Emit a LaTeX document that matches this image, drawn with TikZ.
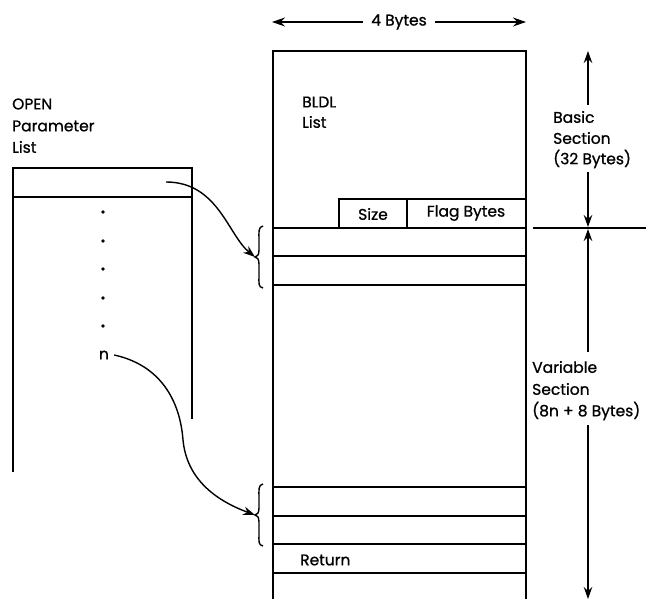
\documentclass[tikz,border=0pt]{standalone}
\usepackage{fontspec}
\setmainfont{Poppins}
\newfontfamily\lblfont{Poppins}[FakeBold=0.9]
\usetikzlibrary{arrows.meta}
\begin{document}
\begin{tikzpicture}[x=1pt,y=-1pt,
  boxline/.style={line width=1.8pt},
  dimline/.style={line width=1.2pt},
  curve/.style={line width=1.4pt},
  lbl/.style={font=\lblfont\fontsize{15.5}{17}\selectfont, inner sep=0pt},
  tipped/.style={-{Stealth[length=12pt,width=8.5pt]}},
  both/.style={{Stealth[length=13pt,width=9pt]}-{Stealth[length=13pt,width=9pt]}}]
\useasboundingbox (0,0) rectangle (646,599);
% BLDL list box
\draw[boxline] (273,599) -- (273,51) -- (526,51) -- (526,599);
\foreach \yy in {228,256,285,487,516,544,573}
  \draw[boxline] (273,\yy) -- (526,\yy);
\draw[boxline] (339,228) -- (339,199) -- (526,199);
\draw[boxline] (407,199) -- (407,228);
\node[lbl] (size) at (373,214) {Size};
\node[lbl] (flag) at (466,213) {Flag Bytes};
\node[lbl,anchor=west] (ret) at (300,560) {Return};
\node[lbl,anchor=west] (bldl) at (302,102) {BLDL};
\node[lbl,anchor=west] (bldllist) at (302,122) {List};
% OPEN parameter list
\draw[boxline] (13,472) -- (13,168) -- (192,168) -- (192,419);
\draw[boxline] (13,197) -- (192,197);
\foreach \yy in {212,241,269,298,326}
  \fill (103,\yy) circle (1.8pt);
\node[lbl] (n) at (104,355) {n};
\node[lbl,anchor=west] (open) at (12,104) {OPEN};
\node[lbl,anchor=west] (param) at (12,126) {Parameter};
\node[lbl,anchor=west] (plist) at (12,147) {List};
% braces
\coordinate (b1) at (255,257);
\coordinate (b2) at (255,515);
\draw[curve] (263,226) .. controls (258,227) and (259,232) .. (259,240)
  -- (259,250) .. controls (259,255) and (257,257) .. (b1)
  .. controls (257,257) and (259,259) .. (259,264) -- (259,276)
  .. controls (259,283) and (258,287) .. (263,288);
\draw[curve] (263,484) .. controls (258,485) and (259,490) .. (259,498)
  -- (259,508) .. controls (259,513) and (257,515) .. (b2)
  .. controls (257,515) and (259,517) .. (259,522) -- (259,534)
  .. controls (259,541) and (258,545) .. (263,546);
% connectors
\coordinate (s1) at (166,182);
\draw[curve,tipped] (s1) .. controls (218,182) and (228,235) .. (b1);
\draw[curve,tipped] (n.east) ++(5,0) .. controls (160,365) and (180,400) .. (183,440)
  .. controls (187,482) and (220,502) .. (b2);
% top dimension
\draw[dimline,both] (272,22) -- node[lbl,fill=white,inner xsep=8pt] (four) {4 Bytes} (526,22);
% right dimension
\draw[dimline] (533,228) -- (646,228);
\node[lbl,anchor=west] (basic) at (553,117) {Basic};
\node[lbl,anchor=west] (bsec) at (553,138) {Section};
\node[lbl,anchor=west] (b32) at (553,159) {(32 Bytes)};
\draw[dimline,tipped] (588,105) -- (588,51);
\draw[dimline,tipped] (588,172) -- (588,227);
\node[lbl,anchor=west] (var) at (532,367) {Variable};
\node[lbl,anchor=west] (vsec) at (532,389) {Section};
\node[lbl,anchor=west] (v8) at (532,411) {(8n + 8 Bytes)};
\draw[dimline,tipped] (588,352) -- (588,229);
\draw[dimline,tipped] (588,425) -- (588,599);
\end{tikzpicture}
\end{document}
